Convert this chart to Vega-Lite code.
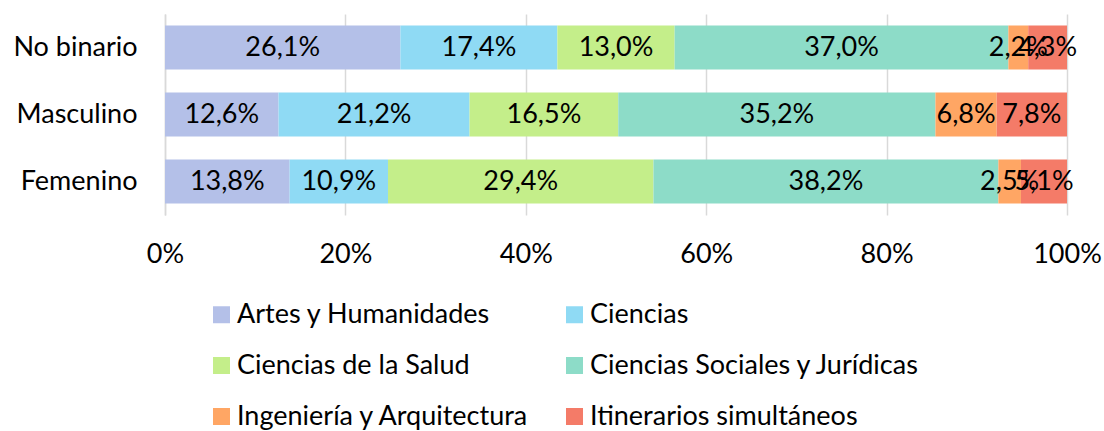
{
  "$schema": "https://vega.github.io/schema/vega-lite/v6.json",
  "width": 902,
  "height": 201,
  "autosize": {"type": "none"},
  "padding": {"left": 165, "top": 14, "right": 37, "bottom": 216},
  "background": "white",
  "config": {
    "font": "Lato",
    "view": {"stroke": null},
    "locale": {"number": {"decimal": ",", "thousands": ".", "grouping": [3], "currency": ["", " €"]}}
  },
  "data": {
    "values": [
      {"genero": "No binario", "area": "Artes y Humanidades", "orden": 1, "pct": 0.261},
      {"genero": "No binario", "area": "Ciencias", "orden": 2, "pct": 0.174},
      {"genero": "No binario", "area": "Ciencias de la Salud", "orden": 3, "pct": 0.130},
      {"genero": "No binario", "area": "Ciencias Sociales y Jurídicas", "orden": 4, "pct": 0.370},
      {"genero": "No binario", "area": "Ingeniería y Arquitectura", "orden": 5, "pct": 0.022},
      {"genero": "No binario", "area": "Itinerarios simultáneos", "orden": 6, "pct": 0.043},
      {"genero": "Masculino", "area": "Artes y Humanidades", "orden": 1, "pct": 0.126},
      {"genero": "Masculino", "area": "Ciencias", "orden": 2, "pct": 0.212},
      {"genero": "Masculino", "area": "Ciencias de la Salud", "orden": 3, "pct": 0.165},
      {"genero": "Masculino", "area": "Ciencias Sociales y Jurídicas", "orden": 4, "pct": 0.352},
      {"genero": "Masculino", "area": "Ingeniería y Arquitectura", "orden": 5, "pct": 0.068},
      {"genero": "Masculino", "area": "Itinerarios simultáneos", "orden": 6, "pct": 0.078},
      {"genero": "Femenino", "area": "Artes y Humanidades", "orden": 1, "pct": 0.138},
      {"genero": "Femenino", "area": "Ciencias", "orden": 2, "pct": 0.109},
      {"genero": "Femenino", "area": "Ciencias de la Salud", "orden": 3, "pct": 0.294},
      {"genero": "Femenino", "area": "Ciencias Sociales y Jurídicas", "orden": 4, "pct": 0.382},
      {"genero": "Femenino", "area": "Ingeniería y Arquitectura", "orden": 5, "pct": 0.025},
      {"genero": "Femenino", "area": "Itinerarios simultáneos", "orden": 6, "pct": 0.051}
    ]
  },
  "encoding": {
    "y": {
      "field": "genero",
      "type": "nominal",
      "sort": ["No binario", "Masculino", "Femenino"],
      "scale": {"paddingInner": 0.34, "paddingOuter": 0.17},
      "axis": {
        "title": null,
        "ticks": false,
        "domainColor": "#d9d9d9",
        "domainWidth": 1.5,
        "labelFontSize": 27,
        "labelColor": "#000000",
        "labelPadding": 28
      }
    },
    "order": {"field": "orden", "type": "quantitative", "sort": "ascending"}
  },
  "layer": [
    {
      "mark": {"type": "bar"},
      "encoding": {
        "x": {
          "field": "pct",
          "type": "quantitative",
          "stack": "normalize",
          "scale": {"domain": [0, 1]},
          "axis": {
            "title": null,
            "format": ".0%",
            "values": [0, 0.2, 0.4, 0.6, 0.8, 1],
            "domain": false,
            "ticks": false,
            "grid": true,
            "gridColor": "#d9d9d9",
            "gridWidth": 1.5,
            "labelFontSize": 27,
            "labelColor": "#000000",
            "labelPadding": 26,
            "labelFlush": false
          }
        },
        "color": {
          "field": "area",
          "type": "nominal",
          "sort": ["Artes y Humanidades", "Ciencias", "Ciencias de la Salud", "Ciencias Sociales y Jurídicas", "Ingeniería y Arquitectura", "Itinerarios simultáneos"],
          "scale": {
            "domain": ["Artes y Humanidades", "Ciencias", "Ciencias de la Salud", "Ciencias Sociales y Jurídicas", "Ingeniería y Arquitectura", "Itinerarios simultáneos"],
            "range": ["#B4C0E8", "#8FDAF4", "#C4EE8A", "#8DDCC8", "#FFA664", "#F47B68"]
          },
          "legend": {
            "title": null,
            "orient": "none",
            "legendX": 43,
            "legendY": 287,
            "direction": "horizontal",
            "columns": 2,
            "symbolType": "square",
            "symbolSize": 289,
            "symbolStrokeWidth": 0,
            "symbolOpacity": 1,
            "labelFontSize": 27,
            "labelColor": "#000000",
            "labelOffset": 2,
            "rowPadding": 23,
            "columnPadding": 31,
            "labelLimit": 500
          }
        }
      }
    },
    {
      "mark": {"type": "text", "fontSize": 27, "color": "#000000"},
      "encoding": {
        "x": {"field": "pct", "type": "quantitative", "stack": "normalize", "bandPosition": 0.5},
        "detail": {"field": "area", "type": "nominal"},
        "text": {"field": "pct", "type": "quantitative", "format": ".1%"}
      }
    }
  ]
}
